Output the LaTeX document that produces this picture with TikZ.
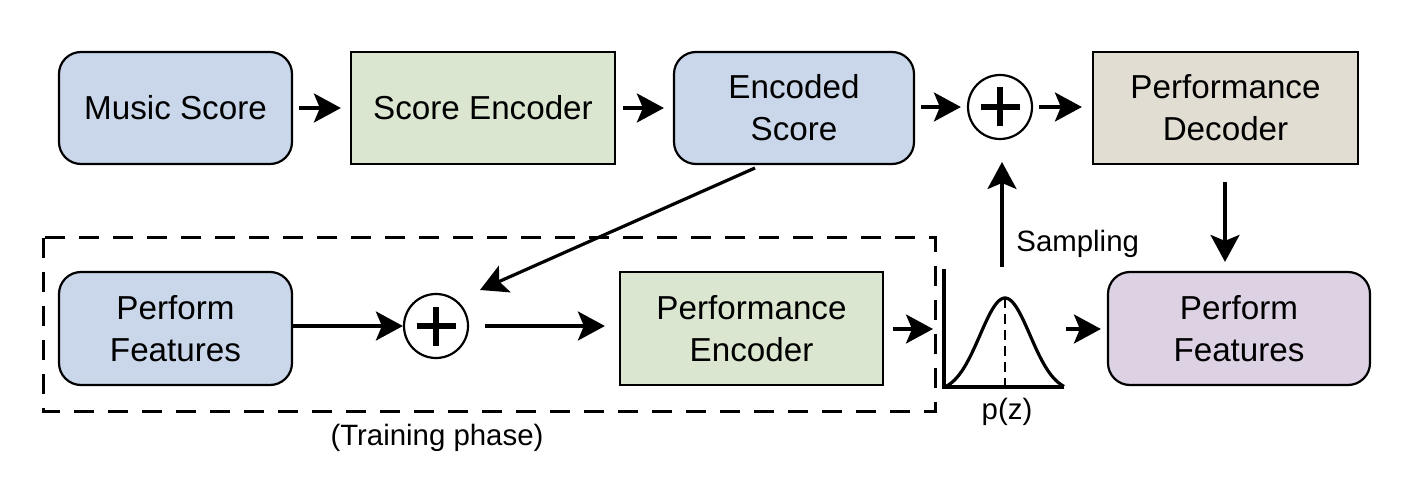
\documentclass[tikz,border=0pt]{standalone}
\usepackage{fontspec}
\setmainfont{Liberation Sans}
\usetikzlibrary{arrows.meta,calc}
\definecolor{cblue}{RGB}{202,214,234}
\definecolor{cgreen}{RGB}{218,230,208}
\definecolor{ctan}{RGB}{225,221,211}
\definecolor{cpurple}{RGB}{221,209,228}
\tikzset{
  box/.style={draw=black, line width=1.1pt, inner sep=0pt, align=center,
    font=\fontsize{16.6}{21}\selectfont},
  rbox/.style={box, rounded corners=11pt},
  plus/.style={circle, draw=black, line width=1.1pt, minimum size=32pt, inner sep=0pt,
    path picture={
      \draw[line width=3pt]
        ([xshift=-9.75pt]path picture bounding box.center) -- ([xshift=9.75pt]path picture bounding box.center)
        ([yshift=-9.75pt]path picture bounding box.center) -- ([yshift=9.75pt]path picture bounding box.center);
    }},
  arr/.style={line width=1.6pt, -{Stealth[length=13.5pt,width=14.5pt,inset=3pt]}},
  lbl/.style={font=\fontsize{14.7}{18}\selectfont, inner sep=0pt},
}
\begin{document}
\begin{tikzpicture}[x=0.5pt,y=-0.5pt]
\useasboundingbox (0,0) rectangle (1418,486);
% top row
\node[rbox, fill=cblue, minimum width=116.5pt, minimum height=56pt] (ms) at (175.5,108) {Music Score};
\node[box, fill=cgreen, minimum width=132pt, minimum height=56pt] (se) at (483,108) {Score Encoder};
\node[rbox, fill=cblue, minimum width=120pt, minimum height=56pt] (es) at (794,108) {Encoded\\Score};
\node[plus] (p1) at (1000,107) {};
\node[box, fill=ctan, minimum width=132.5pt, minimum height=56pt] (pd) at (1225.5,108) {Performance\\Decoder};
% bottom row
\node[rbox, fill=cblue, minimum width=116.5pt, minimum height=56.5pt] (pf1) at (175.5,328.5) {Perform\\Features};
\node[plus] (p2) at (436,326) {};
\node[box, fill=cgreen, minimum width=131.5pt, minimum height=56.5pt] (pe) at (751.5,328.5) {Performance\\Encoder};
\node[rbox, fill=cpurple, minimum width=131pt, minimum height=56.5pt] (pf2) at (1239,328.5) {Perform\\Features};
% dashed training box
\draw[line width=1.5pt, dash pattern=on 10pt off 7pt] (43,238) rectangle (935,411);
\node[lbl] (tp) at (437,438) {(Training phase)};
% gaussian
\coordinate (gtop) at (944,269);
\coordinate (gorig) at (944,387);
\coordinate (gend) at (1064,387);
\draw[line width=1.6pt] (gtop) -- (gorig) -- (gend);
\draw[line width=1.6pt, line join=round] plot[smooth, domain=944:1064, samples=61]
  (\x, {387-89*(exp(-((\x-1005)/25)^2/2)-0.056)/0.944});
\coordinate (gpeak) at (1005,298);
\draw[line width=1.3pt, dash pattern=on 5pt off 3pt] (gpeak) -- (gpeak |- gorig);
\node[lbl, anchor=base] (pz) at (1007,419) {p(z)};
\node[lbl, anchor=base west] (smp) at (1016,251) {Sampling};
% arrows
\draw[arr, shorten <=3pt, shorten >=4.5pt] (ms) -- (se);
\draw[arr, shorten <=3.5pt, shorten >=4.5pt] (se) -- (es);
\draw[arr, shorten <=3pt, shorten >=3pt] (es.east |- p1) -- (p1);
\draw[arr, shorten <=3pt, shorten >=5pt] (p1) -- (pd.west |- p1);
\coordinate (dtop) at (1225,164);
\draw[arr, shorten <=9pt, shorten >=4.5pt] (dtop) -- (dtop |- pf2.north);
\coordinate (dstart) at (755,168);
\coordinate (dend) at (480,290);
\draw[arr] (dstart) -- (dend);
\draw[arr] (pf1.east |- p2) -- (p2);
\coordinate (p2out) at (485,326);
\draw[arr, shorten >=7pt] (p2out) -- (pe.west |- p2out);
\coordinate (dbox) at (935,329);
\draw[arr, shorten <=4.5pt, shorten >=1pt] (pe.east |- dbox) -- (dbox);
\coordinate (gout) at (1066,329);
\draw[arr, shorten >=3pt] (gout) -- (pf2.west |- gout);
\coordinate (sbot) at (1002,267);
\coordinate (stop) at (1002,162);
\draw[arr] (sbot) -- (stop);
\end{tikzpicture}
\end{document}
